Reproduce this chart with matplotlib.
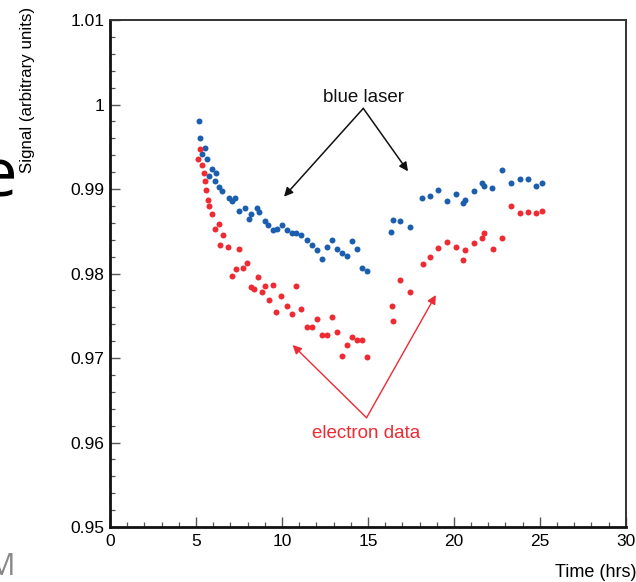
import numpy as np
import matplotlib.pyplot as plt
from matplotlib.ticker import MultipleLocator

plt.rcParams["font.family"] = ["Liberation Sans", "DejaVu Sans"]

# blue laser signal, before and after the gap around t = 15 h
blue_t = [5.17, 5.26, 5.37, 5.52, 5.62, 5.76, 5.95, 6.10, 6.16, 6.34, 6.53, 6.92, 7.11, 7.27,
          7.50, 7.85, 8.08, 8.18, 8.53, 8.66, 9.01, 9.20, 9.49, 9.69, 9.98, 10.27, 10.56, 10.81,
          11.10, 11.44, 11.73, 12.02, 12.31, 12.60, 12.89, 13.18, 13.47, 13.76, 14.05, 14.34,
          14.63, 14.92,
          16.37, 16.44, 16.86, 17.44, 18.17, 18.60, 19.09, 19.59, 20.12, 20.54, 20.67, 21.16,
          21.66, 21.77, 22.24, 22.82, 23.34, 23.84, 24.32, 24.78, 25.15]
blue_sig = [0.9981, 0.9961, 0.9942, 0.9949, 0.9936, 0.9915, 0.9924, 0.9909, 0.9919, 0.9903,
            0.9898, 0.9889, 0.9886, 0.9890, 0.9874, 0.9877, 0.9865, 0.9871, 0.9877, 0.9873,
            0.9862, 0.9857, 0.9851, 0.9853, 0.9857, 0.9851, 0.9848, 0.9848, 0.9846, 0.9840,
            0.9834, 0.9828, 0.9817, 0.9831, 0.9840, 0.9829, 0.9824, 0.9821, 0.9838, 0.9829,
            0.9807, 0.9803,
            0.9849, 0.9863, 0.9862, 0.9855, 0.9889, 0.9892, 0.9899, 0.9886, 0.9894, 0.9884,
            0.9887, 0.9898, 0.9907, 0.9904, 0.9901, 0.9922, 0.9907, 0.9912, 0.9912, 0.9904,
            0.9907]

# electron data
red_t = [5.12, 5.26, 5.35, 5.45, 5.54, 5.61, 5.70, 5.77, 5.93, 6.09, 6.31, 6.40, 6.55, 6.88,
         7.11, 7.33, 7.52, 7.75, 7.95, 8.18, 8.39, 8.62, 8.82, 9.01, 9.24, 9.46, 9.68, 9.94,
         10.27, 10.56, 10.84, 11.10, 11.44, 11.73, 12.02, 12.31, 12.60, 12.89, 13.18, 13.47,
         13.76, 14.05, 14.34, 14.63, 14.92,
         16.38, 16.44, 16.86, 17.44, 18.18, 18.60, 19.09, 19.59, 20.12, 20.54, 20.67, 21.16,
         21.64, 21.77, 22.25, 22.79, 23.34, 23.84, 24.32, 24.78, 25.15]
red_sig = [0.9936, 0.9947, 0.9928, 0.9919, 0.9910, 0.9899, 0.9887, 0.9880, 0.9871, 0.9853,
           0.9859, 0.9834, 0.9846, 0.9832, 0.9797, 0.9805, 0.9829, 0.9807, 0.9813, 0.9784,
           0.9782, 0.9796, 0.9778, 0.9785, 0.9769, 0.9786, 0.9754, 0.9773, 0.9762, 0.9752,
           0.9785, 0.9758, 0.9737, 0.9737, 0.9746, 0.9727, 0.9727, 0.9749, 0.9731, 0.9702,
           0.9715, 0.9725, 0.9721, 0.9721, 0.9701,
           0.9762, 0.9744, 0.9792, 0.9778, 0.9811, 0.9819, 0.9830, 0.9837, 0.9831, 0.9816,
           0.9828, 0.9836, 0.9842, 0.9848, 0.9829, 0.9842, 0.9880, 0.9872, 0.9873, 0.9872,
           0.9874]

BLUE = "#1b5eae"
RED = "#ee2a33"

fig = plt.figure(figsize=(6.36, 5.82), dpi=100)
ax = fig.add_axes([0.173, 0.0945, 0.811, 0.871])

ax.plot(blue_t, blue_sig, "o", color=BLUE, ms=4.3, mew=0)
ax.plot(red_t, red_sig, "o", color=RED, ms=4.3, mew=0)

ax.set_xlim(0, 30)
ax.set_ylim(0.95, 1.01)
ax.xaxis.set_major_locator(MultipleLocator(5))
ax.xaxis.set_minor_locator(MultipleLocator(1))
ax.yaxis.set_major_locator(MultipleLocator(0.01))
ax.yaxis.set_minor_locator(MultipleLocator(0.002))
ax.set_yticks([0.95, 0.96, 0.97, 0.98, 0.99, 1.0, 1.01])
ax.set_yticklabels(["0.95", "0.96", "0.97", "0.98", "0.99", "1", "1.01"])
ax.tick_params(which="both", direction="in", colors="#555", labelcolor="black",
               labelsize=12.5, top=False, right=False)
ax.tick_params(which="major", length=7.5, width=1)
ax.tick_params(which="minor", length=3.8, width=0.9)
ax.tick_params(axis="x", pad=5)
ax.tick_params(axis="y", pad=4)

for s in ["left", "bottom"]:
    ax.spines[s].set_linewidth(2)
    ax.spines[s].set_color("#111")
for s in ["top", "right"]:
    ax.spines[s].set_linewidth(1.4)
    ax.spines[s].set_color("#333")

# annotations
ax.text(14.73, 0.9998, "blue laser", ha="center", va="bottom", fontsize=13.5, color="#111")
for tx, ty in [(10.12, 0.9891), (17.33, 0.9921)]:
    ax.annotate("", xy=(tx, ty), xytext=(14.73, 0.99955),
                arrowprops=dict(arrowstyle="-|>", color="#111", lw=1.1, mutation_scale=13,
                                shrinkA=0, shrinkB=0))

ax.text(14.92, 0.9621, "electron data", ha="center", va="top", fontsize=13.5, color=RED)
for tx, ty in [(10.62, 0.97154), (18.95, 0.97746)]:
    ax.annotate("", xy=(tx, ty), xytext=(14.92, 0.96293),
                arrowprops=dict(arrowstyle="-|>", color=RED, lw=1.0, mutation_scale=13,
                                shrinkA=0, shrinkB=0))

fig.text(0.044, 0.845, "Signal (arbitrary units)", rotation=90, ha="center", va="center",
         fontsize=12.2)
fig.text(0.873, 0.0155, "Time (hrs)", ha="left", va="center", fontsize=13)

# bits of slide text cut off at the left edge
fig.text(0.027, 0.662, "e", ha="right", va="baseline", fontsize=48, family="Open Sans")
fig.text(0.025, 0.012, "M", ha="right", va="baseline", fontsize=22, color="#888",
         family="Open Sans")

fig.savefig("out.png", dpi=100)
